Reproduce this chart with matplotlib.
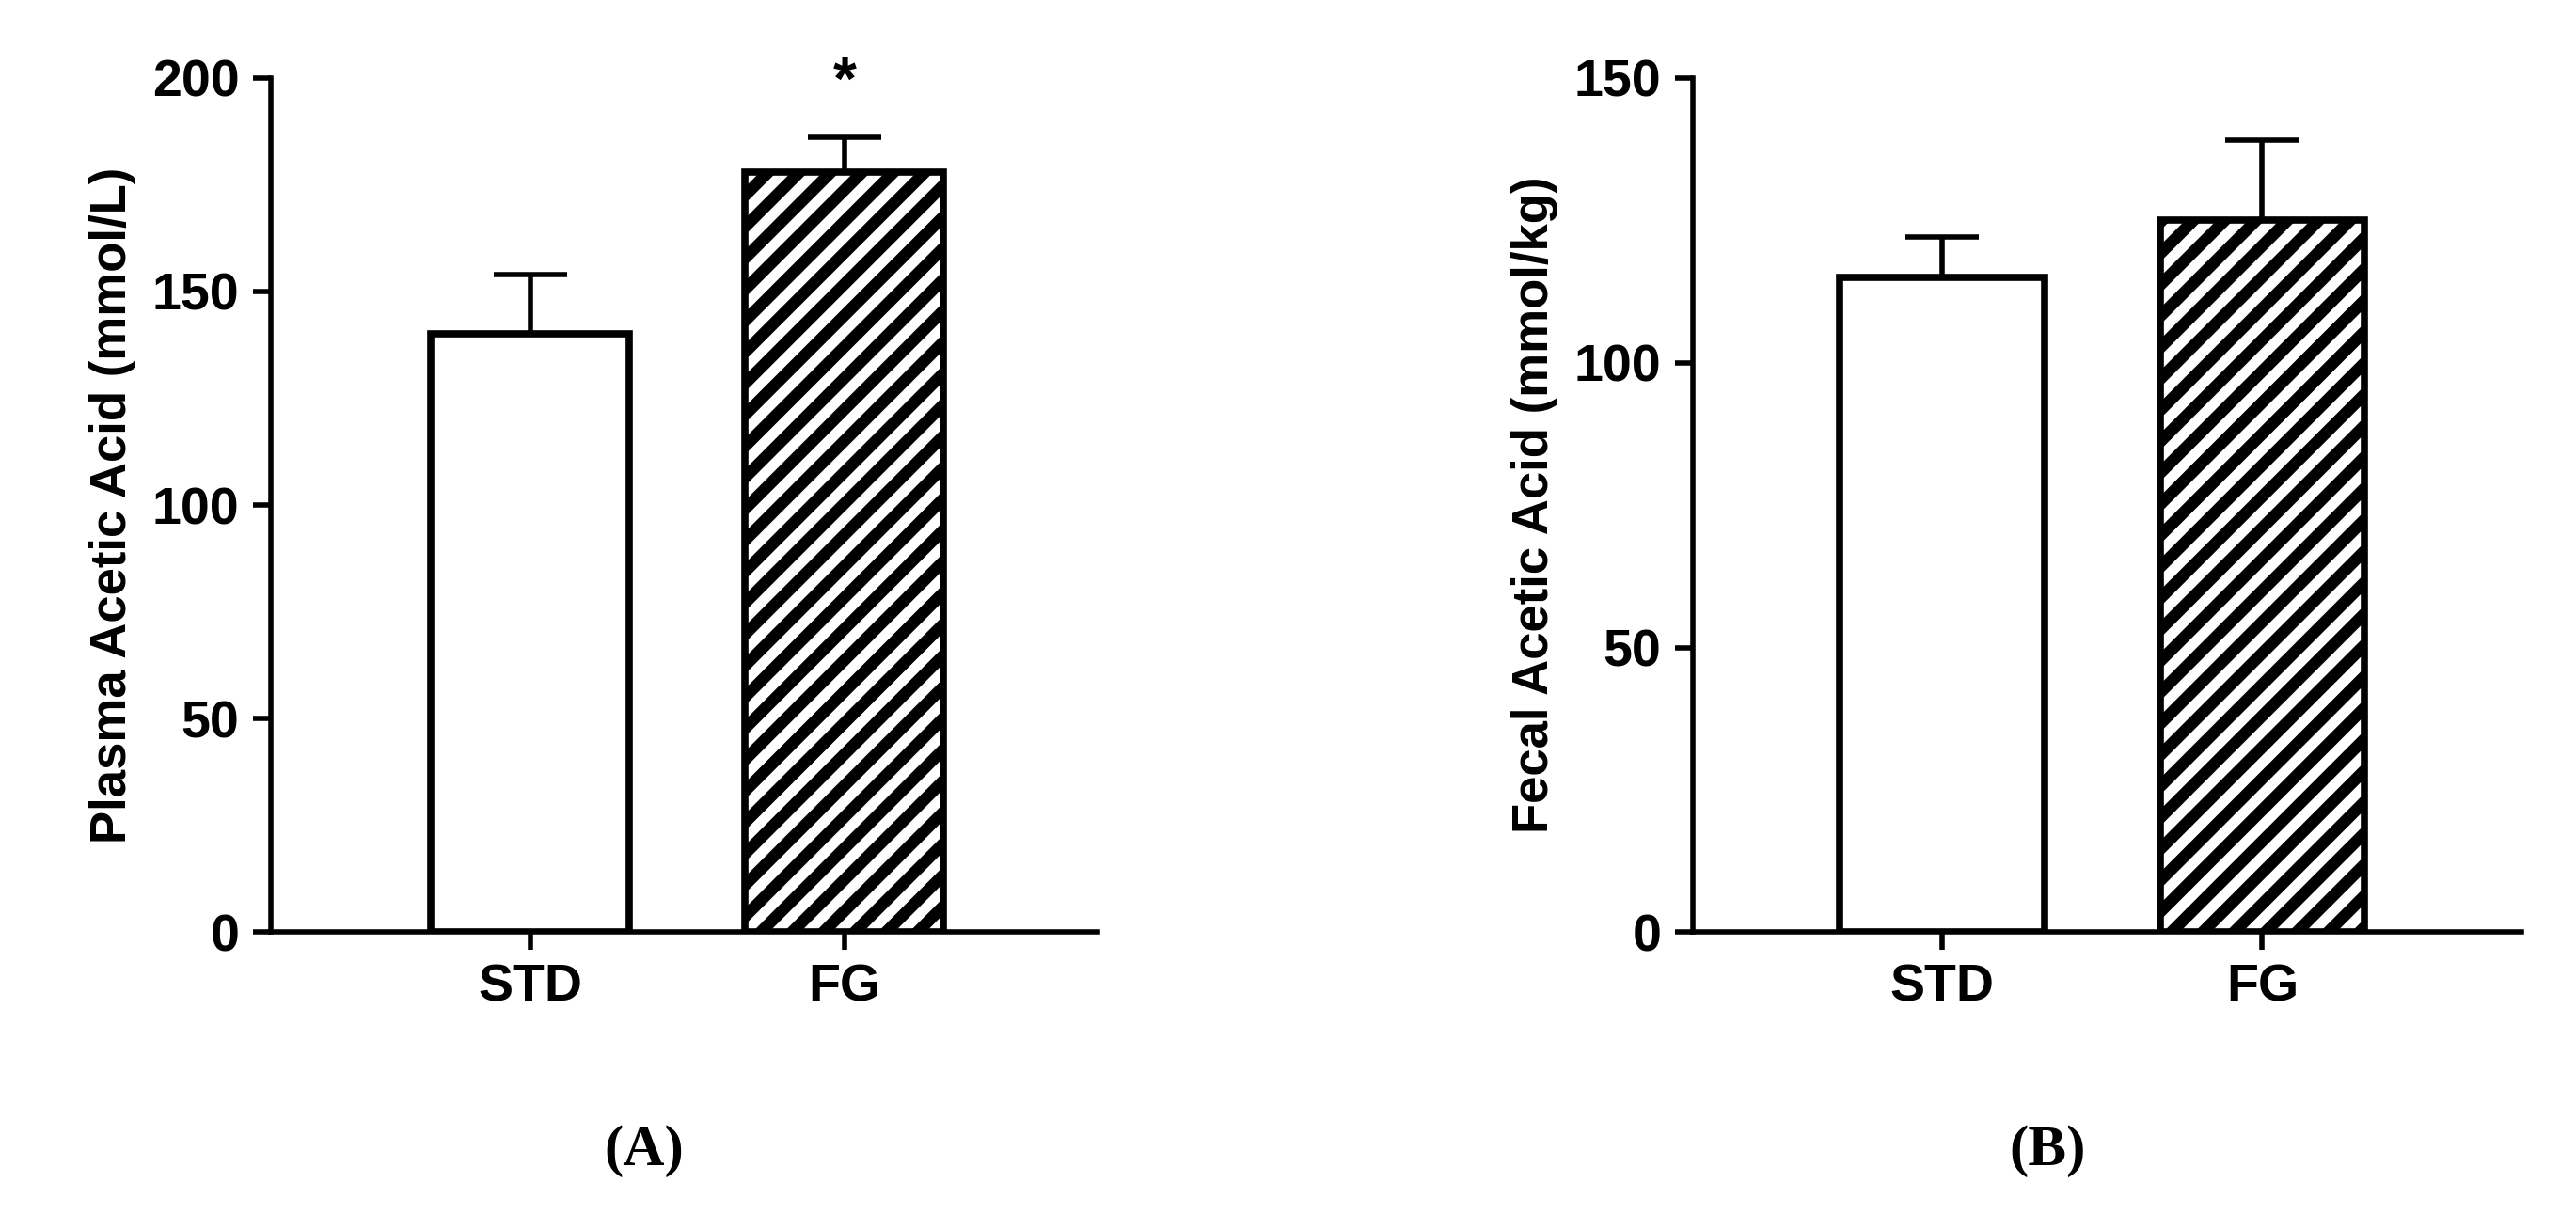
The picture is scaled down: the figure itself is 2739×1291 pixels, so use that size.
import matplotlib.pyplot as plt

groups = ['STD', 'FG']
plasma_mean = [140, 178]
plasma_err = [14, 8]
fecal_mean = [115, 125]
fecal_err = [7, 14]

plt.rcParams['font.family'] = ['Liberation Sans', 'DejaVu Sans']
plt.rcParams['font.weight'] = 'bold'
plt.rcParams['hatch.linewidth'] = 9.0

fig = plt.figure(figsize=(27.39, 12.91), dpi=100)


def panel(rect, means, errs, ymax, step, ylabel, centers, width, star=False):
    ax = fig.add_axes(rect)
    for i, (m, e) in enumerate(zip(means, errs)):
        hatch = '/' if i == 1 else None
        ax.bar(centers[i], m, width, color='white', edgecolor='black', linewidth=5.5, hatch=hatch, zorder=2)
        ax.errorbar(centers[i], m, yerr=[[0], [e]], color='black', capsize=28, capthick=4, elinewidth=4, zorder=1)
    ax.set_xlim(0, 1)
    ax.set_ylim(0, ymax)
    ax.set_yticks(range(0, ymax + 1, step))
    ax.set_xticks(centers)
    ax.set_xticklabels(groups)
    ax.spines['top'].set_visible(False)
    ax.spines['right'].set_visible(False)
    for s in ['left', 'bottom']:
        ax.spines[s].set_linewidth(4)
    ax.tick_params(width=4, length=14, labelsize=40, pad=10)
    ax.set_ylabel(ylabel, fontsize=38, fontweight='bold', labelpad=12)
    if star:
        ax.text(centers[1], means[1] + errs[1] + 6, '*', ha='center', va='bottom', fontsize=46, fontweight='bold')
    return ax


panel([0.105, 0.232, 0.321, 0.704], plasma_mean, plasma_err, 200, 50,
      'Plasma Acetic Acid (mmol/L)', [0.314, 0.694], 0.24, star=True)
panel([0.657, 0.232, 0.322, 0.704], fecal_mean, fecal_err, 150, 50,
      'Fecal Acetic Acid (mmol/kg)', [0.301, 0.687], 0.247)

fig.text(0.25, 0.04, '(A)', ha='center', fontsize=44, family='Liberation Serif', fontweight='bold')
fig.text(0.795, 0.04, '(B)', ha='center', fontsize=44, family='Liberation Serif', fontweight='bold')

fig.savefig('out.png', dpi=100)
